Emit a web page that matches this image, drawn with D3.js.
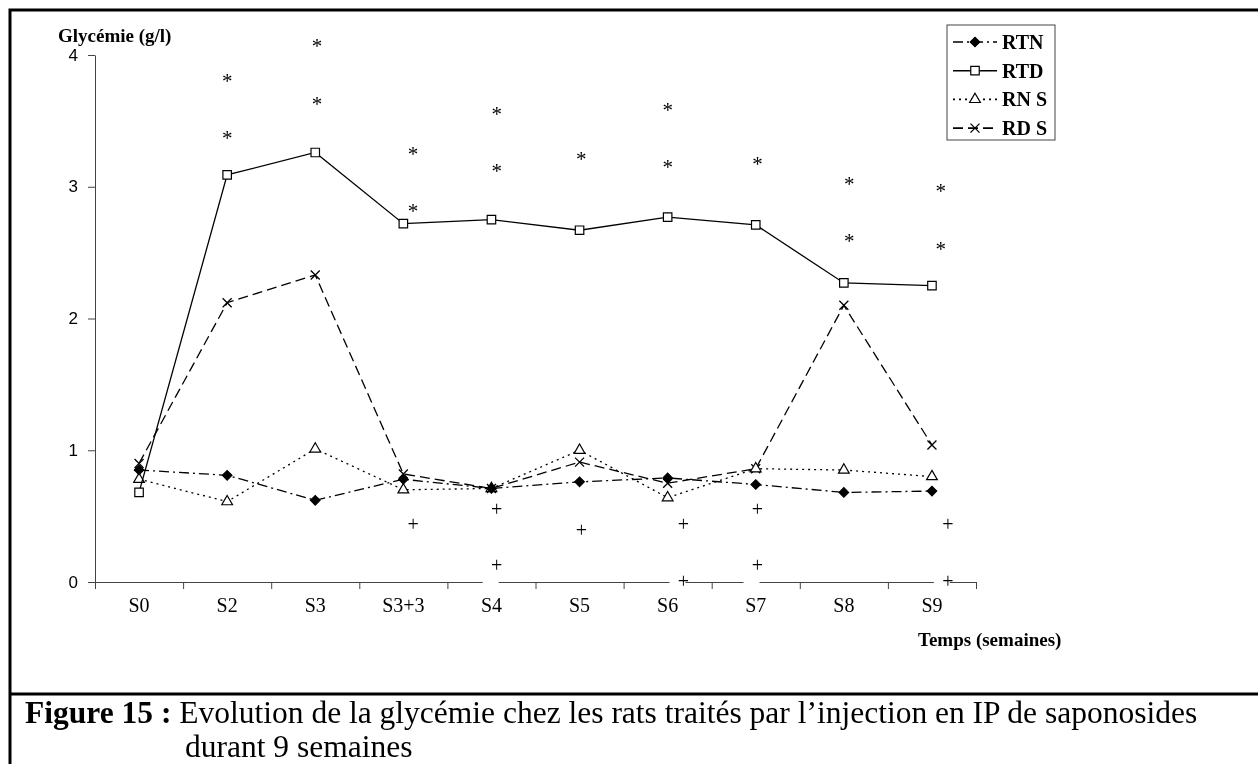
<!DOCTYPE html>
<html>
<head>
<meta charset="utf-8">
<script src="https://cdn.jsdelivr.net/npm/d3@7"></script>
<style>
  body { margin: 0; background: #fff; }
  svg { will-change: transform; }
  text { font-family: "Liberation Serif", "Times New Roman", serif; }
</style>
</head>
<body>
<div class="chart"></div>
<script>
// glycémie (g/l) par semaine, 4 groupes de rats
var semaines = ["S0", "S2", "S3", "S3+3", "S4", "S5", "S6", "S7", "S8", "S9"];
var series = ["RTN", "RTD", "RN S", "RD S"];
var yTicks = [0, 1, 2, 3, 4];

var data_RTN = [0.85, 0.81, 0.62, 0.78, 0.71, 0.76, 0.79, 0.74, 0.68, 0.69];
var data_RTD = [0.68, 3.09, 3.26, 2.72, 2.75, 2.67, 2.77, 2.71, 2.27, 2.25];
var data_RNS = [0.78, 0.61, 1.01, 0.70, 0.71, 1.00, 0.64, 0.86, 0.85, 0.80];
var data_RDS = [0.90, 2.12, 2.33, 0.82, 0.71, 0.91, 0.75, 0.86, 2.10, 1.04];

// annotations : position (indice de semaine) et valeur
var etoile_pos = [1, 1, 2.02, 2.02, 3.11, 3.11, 4.06, 4.06, 5.02, 6, 6, 7.02, 8.06, 8.06, 9.1, 9.1];
var etoile_val = [3.83, 3.40, 4.10, 3.66, 3.28, 2.85, 3.58, 3.15, 3.24, 3.61, 3.18, 3.20, 3.05, 2.62, 3.00, 2.56];
var plus_pos = [3.11, 4.06, 4.06, 5.02, 6.18, 6.18, 7.02, 7.02, 9.18, 9.18];
var plus_val = [0.43, 0.55, 0.12, 0.39, 0.43, 0.00, 0.55, 0.12, 0.43, 0.00];

var svg = d3.select(".chart").append("svg")
    .attr("width", 1258)
    .attr("height", 764);

// cadre
svg.append("rect")
    .attr("x", 10).attr("y", 10)
    .attr("width", 1300).attr("height", 800)
    .attr("fill", "none").attr("stroke", "black").attr("stroke-width", 3);
svg.append("line")
    .attr("x1", 10).attr("x2", 1258).attr("y1", 694).attr("y2", 694)
    .attr("stroke", "black").attr("stroke-width", 3);

var x = d3.scaleLinear().domain([-0.5, 9.5]).range([95, 976]);
var xBand = d3.scaleBand().domain(semaines).range([95, 976]);
var y = d3.scaleLinear().domain([0, 4]).range([582, 55]);

// axe Y
var gy = svg.append("g").attr("transform", "translate(95,0)")
    .call(d3.axisLeft(y).tickValues(yTicks).tickFormat(d3.format("d"))
        .tickSize(7).tickSizeOuter(0).tickPadding(10));
gy.select(".domain").attr("stroke", "#444");
gy.selectAll(".tick line").attr("stroke", "#444");
gy.selectAll(".tick text")
    .style("font-family", "Liberation Sans, Arial, sans-serif")
    .style("font-size", "17px").attr("fill", "black").attr("dy", "0.3em");

// axe X
var gx = svg.append("g").attr("transform", "translate(0,582)")
    .call(d3.axisBottom(x).tickValues(d3.range(-0.5, 10, 1)).tickSize(7).tickSizeOuter(0).tickFormat(""));
gx.select(".domain").attr("stroke", "#444").attr("d", "M88,0.5H976");
gx.selectAll(".tick line").attr("stroke", "#444");

svg.append("text")
    .attr("x", 58).attr("y", 42)
    .text("Glycémie (g/l)")
    .style("font-size", "19px").attr("font-weight", "bold");

svg.append("text")
    .attr("x", 918).attr("y", 646)
    .text("Temps (semaines)")
    .style("font-size", "19px").attr("font-weight", "bold");

// courbes
var styles = [
    { data: data_RDS, dash: "10,5", sym: "x", idx: 3 },
    { data: data_RNS, dash: "2,4", sym: d3.symbolTriangle, idx: 2 },
    { data: data_RTD, dash: null, sym: d3.symbolSquare, idx: 1 },
    { data: data_RTN, dash: "10,4,2,4", sym: "diamond", idx: 0 }
];

var line = d3.line().x(function(d, i) { return x(i); }).y(function(d) { return y(d); });

function marker(g, s, cx, cy) {
    if (s.sym === "x") {
        g.append("path")
            .attr("d", "M" + (cx - 4.5) + "," + (cy - 4.5) + "L" + (cx + 4.5) + "," + (cy + 4.5) +
                       "M" + (cx + 4.5) + "," + (cy - 4.5) + "L" + (cx - 4.5) + "," + (cy + 4.5))
            .attr("stroke", "black").attr("stroke-width", 1.3);
    } else if (s.sym === "diamond") {
        g.append("path")
            .attr("d", d3.symbol().type(d3.symbolSquare).size(48)())
            .attr("transform", "translate(" + cx + "," + cy + ") rotate(45)")
            .attr("fill", "black").attr("stroke", "black").attr("stroke-width", 1);
    } else {
        var size = s.sym === d3.symbolSquare ? 72 : 50;
        g.append("path")
            .attr("d", d3.symbol().type(s.sym).size(size)())
            .attr("transform", "translate(" + cx + "," + cy + ")")
            .attr("fill", "white")
            .attr("stroke", "black").attr("stroke-width", 1.2);
    }
}

styles.forEach(function(s) {
    var g = svg.append("g");
    g.append("path")
        .attr("d", line(s.data))
        .attr("fill", "none")
        .attr("stroke", "black")
        .attr("stroke-width", 1.3)
        .attr("stroke-dasharray", s.dash);
    s.data.forEach(function(v, i) { marker(g, s, x(i), y(v)); });
});

// étoiles
etoile_pos.forEach(function(p, i) {
    svg.append("text")
        .attr("x", x(p)).attr("y", y(etoile_val[i]) + 11)
        .attr("text-anchor", "middle")
        .text("*")
        .style("font-size", "21px");
});

// croix (+) avec leur fond blanc
plus_pos.forEach(function(p, i) {
    svg.append("rect")
        .attr("x", x(p) - 14).attr("y", y(plus_val[i]) - 10)
        .attr("width", 16).attr("height", 28)
        .attr("fill", "white");
});
plus_pos.forEach(function(p, i) {
    svg.append("text")
        .attr("x", x(p)).attr("y", y(plus_val[i]) + 6)
        .attr("text-anchor", "middle")
        .text("+")
        .style("font-size", "20px");
});

// étiquettes des semaines (au-dessus des fonds blancs)
var gxl = svg.append("g").attr("transform", "translate(0,582)")
    .call(d3.axisBottom(xBand).tickSize(0).tickPadding(16));
gxl.select(".domain").remove();
gxl.selectAll(".tick text")
    .style("font-family", "Liberation Serif, Times New Roman, serif")
    .style("font-size", "20px").attr("fill", "black");

// légende
var leg = svg.append("g");
leg.append("rect")
    .attr("x", 947).attr("y", 25).attr("width", 108).attr("height", 115)
    .attr("fill", "white").attr("stroke", "#444").attr("stroke-width", 1);
var legOrder = [3, 2, 1, 0].map(function(k) { return styles[k]; });
legOrder.forEach(function(s, i) {
    var cy = 42 + i * 28.7;
    leg.append("line")
        .attr("x1", 953).attr("x2", 997).attr("y1", cy).attr("y2", cy)
        .attr("stroke", "black").attr("stroke-width", 1.6)
        .attr("stroke-dasharray", s.dash);
    marker(leg, s, 975, cy);
    leg.append("text")
        .attr("x", 1002).attr("y", cy + 7)
        .text(series[s.idx])
        .style("font-size", "20px").attr("font-weight", "bold");
});

// légende de la figure
var cap = svg.append("text").attr("x", 25).attr("y", 723).style("font-size", "31.5px");
cap.append("tspan").attr("font-weight", "bold").text("Figure 15 : ");
cap.append("tspan").text("Evolution de la glycémie chez les rats traités par l’injection en IP de saponosides");
svg.append("text")
    .attr("x", 185).attr("y", 757)
    .text("durant 9 semaines")
    .style("font-size", "31.5px");
</script>
</body>
</html>
